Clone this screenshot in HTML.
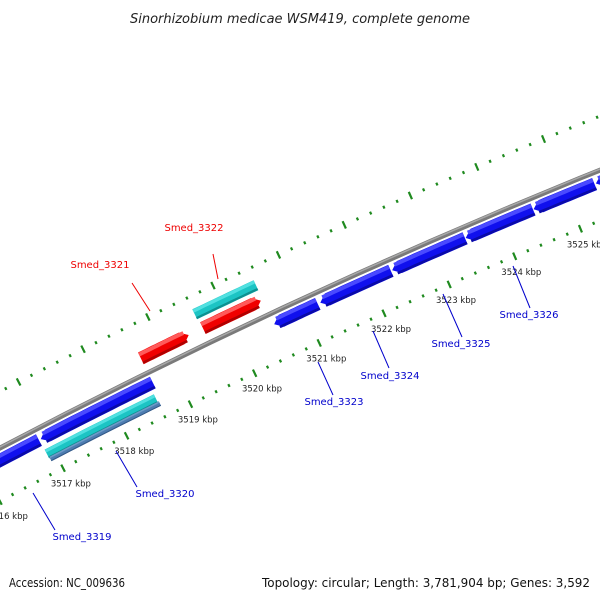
<!DOCTYPE html>
<html><head><meta charset="utf-8"><style>
html,body{margin:0;padding:0;background:#fff;}
svg{display:block;font-family:"DejaVu Sans","Liberation Sans",sans-serif;}
</style></head><body>
<svg id="map" width="600" height="600" viewBox="0 0 600 600" xmlns="http://www.w3.org/2000/svg">
<text x="300" y="23" text-anchor="middle" font-size="13" font-style="italic" fill="#222">Sinorhizobium medicae WSM419, complete genome</text>
<g id="ticks"></g>
<g id="features"></g>
<g id="labels"></g>
<text x="9" y="587" font-size="12" textLength="116" lengthAdjust="spacingAndGlyphs" fill="#111">Accession: NC_009636</text>
<text x="590" y="587" font-size="12" text-anchor="end" textLength="328" lengthAdjust="spacingAndGlyphs" fill="#111">Topology: circular; Length: 3,781,904 bp; Genes: 3,592</text>
</svg>
<script>
// ---- data (bp) ----
const tickStart = 3515000, tickEnd = 3527200, tickStep = 200;
const blueStarts = [3515400, 3516910, 3520540, 3521250, 3522350, 3523470, 3524500, 3525440];
const blueEnds   = [3516880, 3518660, 3521210, 3522330, 3523460, 3524490, 3525420, 3526600];
const redStarts = [3518660, 3519620];
const redEnds   = [3519400, 3520510];
const cyanUpStarts = [3519600];
const cyanUpEnds   = [3520540];
const cyanLowStarts = [3516890];
const cyanLowEnds   = [3518600];
const steelStarts = [3516900];
const steelEnds   = [3518620];
const geneNames = ["Smed_3319","Smed_3320","Smed_3321","Smed_3322","Smed_3323","Smed_3324","Smed_3325","Smed_3326"];

// ---- geometry ----
const NS="http://www.w3.org/2000/svg";
function circ(a,b,c){const d=2*(a[0]*(b[1]-c[1])+b[0]*(c[1]-a[1])+c[0]*(a[1]-b[1]));
 const ux=((a[0]**2+a[1]**2)*(b[1]-c[1])+(b[0]**2+b[1]**2)*(c[1]-a[1])+(c[0]**2+c[1]**2)*(a[1]-b[1]))/d;
 const uy=((a[0]**2+a[1]**2)*(c[0]-b[0])+(b[0]**2+b[1]**2)*(a[0]-c[0])+(c[0]**2+c[1]**2)*(b[0]-a[0]))/d;
 return [ux,uy,Math.hypot(a[0]-ux,a[1]-uy)];}
const [cx,cy,R]=circ([0,448],[300,300],[600,170]);
const a1=Math.atan2(468-cy,63-cx), a2=Math.atan2(257-cy,515-cx);
const dA=(a2-a1)/7000;
function pt(bp,r){const a=a1+(bp-3517000)*dA;return [cx+(R+r)*Math.cos(a),cy+(R+r)*Math.sin(a)];}
function arcPts(b0,b1,r){const n=12,o=[];for(let i=0;i<=n;i++)o.push(pt(b0+(b1-b0)*i/n,r));return o;}
function el(tag,attrs,parent){const e=document.createElementNS(NS,tag);for(const k in attrs)e.setAttribute(k,attrs[k]);parent.appendChild(e);return e;}
const P=p=>p.map(q=>q[0].toFixed(1)+","+q[1].toFixed(1)).join(" ");

// backbone
const svg=document.getElementById('map');
const fg=document.getElementById('features');
const bb=arcPts(3514000,3527500,0);
const bbl=el('polyline',{points:P(bb),fill:'none',stroke:'#7a7a7a','stroke-width':5},fg);


const bbh=el('polyline',{points:P(arcPts(3514000,3527500,1)),fill:'none',stroke:'#a8a8a8','stroke-width':1.5},fg);



// ticks
const tg=document.getElementById('ticks');
for(let bp=tickStart;bp<=tickEnd;bp+=tickStep){
 const major=(bp%1000===0);
 for(const r of [50,-47]){
  const h=major?4:1.5;
  const p0=pt(bp,r-h),p1=pt(bp,r+h);
  const t=el('line',{x1:p0[0],y1:p0[1],x2:p1[0],y2:p1[1],stroke:'#1f8a1f','stroke-width':2.2},tg);
  
  
 }
 if(major){
  const lp=pt(bp,-64);
  const tx=el('text',{x:lp[0],y:lp[1]+3,'font-size':8.5,'text-anchor':'middle',fill:'#222'},tg);
  tx.textContent=(bp/1000)+' kbp';
  
  
 }
}

// features
function feature(b0,b1,rc,th,col,light,dark,dir,name){
 const g=el('g',{},fg);
 
 
 const head=110, ro=rc+th/2, ri=rc-th/2;
 let poly;
 if(dir===0){poly=arcPts(b0,b1,ro).concat(arcPts(b0,b1,ri).reverse());}
 else if(dir>0){poly=arcPts(b0,b1-head,ro).concat([pt(b1,rc)],arcPts(b0,b1-head,ri).reverse());}
 else {poly=[pt(b0,rc)].concat(arcPts(b0+head,b1,ro),arcPts(b0+head,b1,ri).reverse());}
 el('polygon',{points:P(poly),fill:col},g);
 const s0=dir<0?b0+head*0.5:b0, s1=dir>0?b1-head*0.5:b1;
 el('polyline',{points:P(arcPts(s0,s1,ro-th*0.18)),fill:'none',stroke:light,'stroke-width':th*0.3},g);
 el('polyline',{points:P(arcPts(s0,s1,ri+th*0.12)),fill:'none',stroke:dark,'stroke-width':th*0.2},g);
}
blueStarts.forEach((s,i)=>feature(s,blueEnds[i],-11,13,'#1010ee','#4a4aff','#0a0aa8',-1,'gene-blue-'+i));
redStarts.forEach((s,i)=>feature(s,redEnds[i],16,13,'#f00000','#ff5a5a','#b00000',1,'gene-red-'+i));
cyanUpStarts.forEach((s,i)=>feature(s,cyanUpEnds[i],32,11,'#1cc4c4','#50e0e0','#0e9090',0,'cds-upper-'+i));
cyanLowStarts.forEach((s,i)=>feature(s,cyanLowEnds[i],-27,10,'#1cc4c4','#50e0e0','#0e9090',0,'cds-lower-'+i));
steelStarts.forEach((s,i)=>feature(s,steelEnds[i],-33,5,'#4d7cb0','#6e9cc8','#355a88',0,'misc-feature-'+i));

// gene labels
const lg=document.getElementById('labels');
const labelPos=[[82,540,33,493,55,530,'#00c'],[165,497,116,451,137,487,'#00c'],[100,268,132,283,150,311,'#e00'],[194,231,213,254,218,279,'#e00'],[334,405,318,362,333,395,'#00c'],[390,379,373,331,389,368,'#00c'],[461,347,443,294,462,337,'#00c'],[529,318,513,266,530,308,'#00c']];
geneNames.forEach((n,i)=>{
 const q=labelPos[i];
 const ln=el('line',{x1:q[2],y1:q[3],x2:q[4],y2:q[5],stroke:q[6],'stroke-width':1},lg);
 
 
 const t=el('text',{x:q[0],y:q[1],'font-size':10,'text-anchor':'middle',fill:q[6]},lg);
 t.textContent=n;
 
 
});
</script>
</body></html>
